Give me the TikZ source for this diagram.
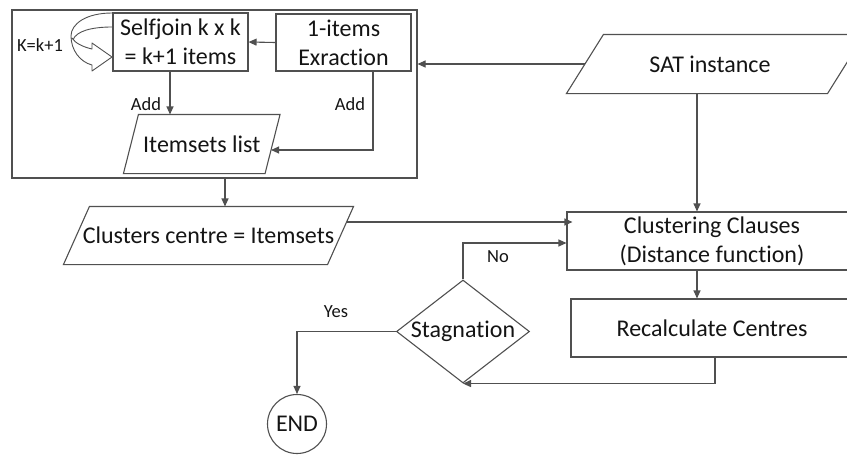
\documentclass[tikz,border=0pt]{standalone}
\usepackage{fontspec}
\setmainfont[Ligatures=NoCommon]{Carlito}
\usetikzlibrary{arrows.meta,shapes.geometric,calc}
\definecolor{edge}{RGB}{80,80,80}
\definecolor{ink}{RGB}{20,20,20}
% outline of a parallelogram around a rectangular node: #1 node, #2 half slant
\newcommand\paraoutline[2]{%
  \draw[draw=edge] ([xshift=#2pt]#1.north west) -- ([xshift=#2pt]#1.north east)
    -- ([xshift=-#2pt]#1.south east) -- ([xshift=-#2pt]#1.south west) -- cycle;}
\begin{document}
\begin{tikzpicture}[x=1pt,y=-1pt,
  line width=1.1pt,
  every node/.style={text=ink},
  big/.style={font=\fontsize{24}{29}\selectfont},
  small/.style={font=\fontsize{18.5}{22}\selectfont},
  box/.style={draw=edge, big, inner sep=0pt, align=center},
  slot/.style={big, inner sep=0pt, align=center},
  arr/.style={draw=edge, -{Triangle[length=8pt,width=7pt]}},
  wire/.style={draw=edge},
]
\useasboundingbox (0,0) rectangle (847,455);
\clip (0,0) rectangle (847,455);

% frequent itemset mining block
\node[draw=edge, minimum width=405pt, minimum height=168pt, inner sep=0pt] (outer) at (214.5,94) {};
\node[box, minimum width=135pt, minimum height=58pt] (sj) at (180.5,42) {Selfjoin k x k\\= k+1 items};
\node[box, minimum width=135pt, minimum height=57pt] (ie) at (343.5,42.5) {1-items\\Exraction};
\node[slot, minimum width=140.5pt, minimum height=58pt] (il) at (201.75,144) {Itemsets list};
\paraoutline{il}{7.5}

% loop arrow k = k+1
\draw[draw=edge, line width=0.9pt, line join=round]
  (112,13) .. controls (86,13) and (71,24) .. (71,36)
  .. controls (71,50) and (80,62) .. (92,65) -- (92,71) -- (112,57) -- (92,43) -- (92,49)
  .. controls (83,47) and (75,43) .. (72,38);
\draw[draw=edge, line width=0.9pt]
  (112,27) .. controls (92,27) and (76,31) .. (73,40);
\node[small] (kk) at (40,45) {K=k+1};

% main flow
\node[slot, minimum width=263pt, minimum height=57pt] (clus) at (208.5,235.5) {Clusters centre = Itemsets};
\paraoutline{clus}{13}
\node[slot, minimum width=260pt, minimum height=58pt] (sat) at (715.5,64) {};
\paraoutline{sat}{18.5}
\node[big] (sattext) at (710,64) {SAT instance};
\node[box, minimum width=290pt, minimum height=58pt] (cc) at (712,241) {Clustering Clauses\\(Distance function)};
\node[box, minimum width=282pt, minimum height=58pt] (rc) at (712,328) {Recalculate Centres};
\node[draw=edge, diamond, minimum width=133pt, minimum height=103pt, inner sep=0pt] (stag) at (463,331.5) {};
\node[big] (stagtext) at (stag) {Stagnation};
\node[draw=edge, circle, minimum size=59pt, inner sep=0pt, big] (end) at (297,424) {END};

% connectors
\draw[arr] (ie.west) -- (sj.east);
\draw[arr] ([xshift=-10.5pt]sj.south) -- ([xshift=-10.5pt]sj.south |- il.north);
\node[small] (addl) at (146,104) {Add};
\draw[arr] ([xshift=29.5pt]ie.south) |- ([xshift=-1.5pt,yshift=-6pt]il.east);
\node[small] (addr) at (350,104) {Add};
\draw[arr] (sat.west) -- (sat.west -| outer.east);
\draw[arr] ([xshift=10.5pt]outer.south) -- ([xshift=10.5pt]outer.south |- clus.north);
\draw[arr] ([xshift=6pt,yshift=13.5pt]clus.east) -- ([xshift=6pt,yshift=13.5pt]clus.east -| cc.west);
\draw[arr] ([xshift=-18.5pt]sat.south) -- ([xshift=-18.5pt]sat.south |- cc.north);
\draw[arr] ([xshift=-15pt]cc.south) -- ([xshift=-15pt]cc.south |- rc.north);
\draw[arr] ([xshift=3pt]rc.south) |- (stag.south);
\draw[arr] (stag.north) |- ([yshift=-2pt]cc.west);
\node[small] (no) at (498,257) {No};
\draw[arr] (stag.west) -| (end.north);
\node[small] (yes) at (336,312) {Yes};
\end{tikzpicture}
\end{document}
